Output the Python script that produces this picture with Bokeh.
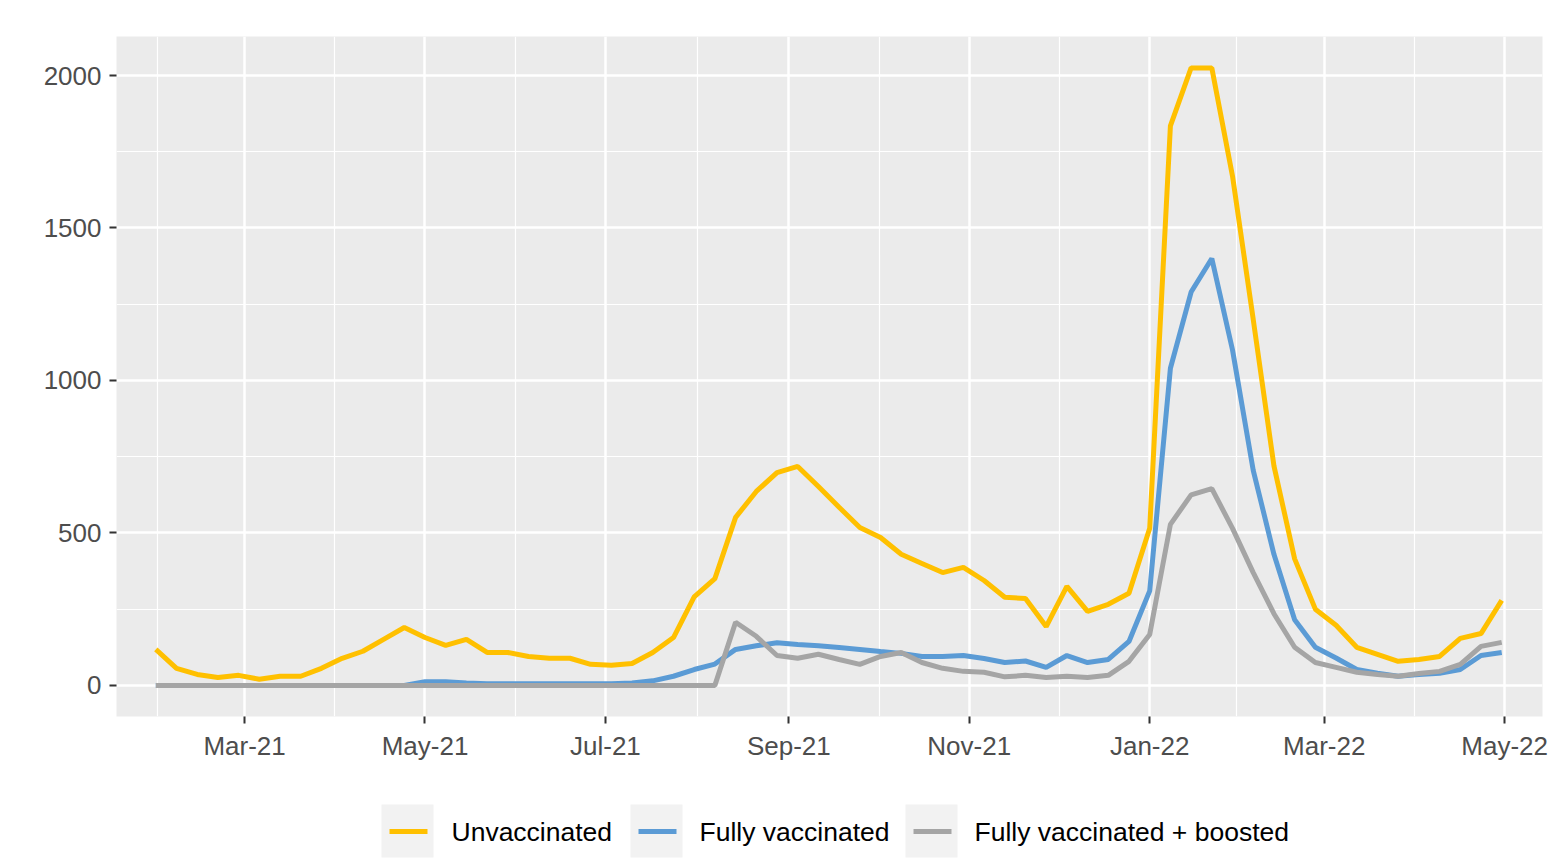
from datetime import datetime, timedelta
from bokeh.plotting import figure
from bokeh.layouts import column
from bokeh.models import ColumnDataSource, Range1d, FixedTicker, DatetimeTickFormatter
from bokeh.core.properties import value
from bokeh.embed import file_html
from bokeh.resources import INLINE

# ---- data (weekly) ----
start_date = datetime(2021, 1, 30)
n_weeks = 66
dates = [start_date + timedelta(days=7 * i) for i in range(n_weeks)]

unvaccinated = [118, 56, 36, 26, 33, 20, 30, 30, 56, 89,
                112, 151, 190, 157, 131, 151, 108, 108, 95, 89,
                89, 69, 66, 72, 108, 157, 290, 350, 551, 636,
                698, 718, 652, 584, 518, 485, 430, 400, 370, 387,
                344, 289, 285, 193, 325, 243, 266, 302, 515, 1835,
                2025, 2025, 1670, 1200, 720, 415, 250, 197, 125, 102,
                79, 85, 95, 154, 170, 279]

fully_vaccinated = [0, 0, 0, 0, 0, 0, 0, 0, 0, 0,
                    0, 0, 0, 12, 12, 8, 5, 5, 5, 5,
                    5, 5, 5, 8, 15, 30, 52, 70, 118, 130,
                    140, 134, 130, 124, 118, 111, 105, 95, 95, 98,
                    88, 75, 80, 59, 98, 75, 85, 144, 310, 1040,
                    1290, 1400, 1100, 705, 430, 215, 125, 90, 52, 40,
                    30, 36, 40, 52, 98, 108]

boosted = [0, 0, 0, 0, 0, 0, 0, 0, 0, 0,
           0, 0, 0, 0, 0, 0, 0, 0, 0, 0,
           0, 0, 0, 0, 0, 0, 0, 0, 207, 161,
           98, 89, 102, 85, 69, 95, 108, 75, 56, 46,
           43, 28, 33, 26, 30, 26, 33, 79, 167, 528,
           625, 645, 515, 370, 235, 125, 75, 59, 43, 36,
           30, 39, 46, 69, 128, 141]

series_names = ["Unvaccinated", "Fully vaccinated", "Fully vaccinated + boosted"]
series_colors = ["#FFC000", "#5B9BD5", "#A5A5A5"]

x_major = [datetime(2021, 3, 1), datetime(2021, 5, 1), datetime(2021, 7, 1),
           datetime(2021, 9, 1), datetime(2021, 11, 1), datetime(2022, 1, 1),
           datetime(2022, 3, 1), datetime(2022, 5, 1)]
y_major = [0, 500, 1000, 1500, 2000]
y_minor = [250, 750, 1250, 1750]

# legend strip layout (pixel units of the legend strip)
key_left = [382, 631, 906]
label_left = [452, 700, 975]

# ---- helpers ----
def ms(d):
    return (d - datetime(1970, 1, 1)).total_seconds() * 1000.0

major_ms = [ms(d) for d in x_major]
prev_major = ms(datetime(2021, 1, 1))
minor_ms = [(prev_major + major_ms[0]) / 2] + [(a + b) / 2 for a, b in zip(major_ms[:-1], major_ms[1:])]

src = ColumnDataSource(dict(date=dates, u=unvaccinated, f=fully_vaccinated, b=boosted))

# ---- main chart ----
p = figure(width=1550, height=766, x_axis_type="datetime",
           output_backend="svg", toolbar_location=None,
           x_range=Range1d(datetime(2021, 1, 16, 17), datetime(2022, 5, 13, 19)),
           y_range=Range1d(-102, 2128))
p.min_border_left = 116
p.min_border_right = 8
p.min_border_top = 36
p.min_border_bottom = 50
p.background_fill_color = "#EBEBEB"
p.border_fill_color = "white"
p.outline_line_color = None

p.xaxis.ticker = FixedTicker(ticks=major_ms, minor_ticks=minor_ms)
p.xaxis.formatter = DatetimeTickFormatter(months="%b-%y", days="%b-%y", years="%b-%y")
p.yaxis.ticker = FixedTicker(ticks=y_major, minor_ticks=y_minor)
for ax in (p.xaxis[0], p.yaxis[0]):
    ax.axis_line_color = None
    ax.major_tick_line_color = "#333333"
    ax.major_tick_line_width = 2
    ax.major_tick_out = 7
    ax.major_tick_in = 0
    ax.minor_tick_line_color = None
    ax.major_label_text_font = "Liberation Sans"
    ax.major_label_text_font_size = "26px"
    ax.major_label_text_color = "#4D4D4D"
p.yaxis.major_label_standoff = 8
p.xaxis.major_label_standoff = 7

for g in (p.xgrid[0], p.ygrid[0]):
    g.grid_line_color = "white"
    g.grid_line_width = 2.5
    g.minor_grid_line_color = "white"
    g.minor_grid_line_width = 1.2

p.line("date", "u", source=src, line_color=series_colors[0], line_width=5)
p.line("date", "f", source=src, line_color=series_colors[1], line_width=5)
p.line("date", "b", source=src, line_color=series_colors[2], line_width=5)

# ---- legend strip (pixel-unit figure below the chart, frame aligned with main chart) ----
lg = figure(width=1550, height=94, output_backend="svg", toolbar_location=None,
            x_range=Range1d(117, 1543), y_range=Range1d(0, 94))
lg.min_border_left = 116
lg.min_border_right = 8
lg.min_border_top = 0
lg.min_border_bottom = 0
lg.axis.visible = False
lg.grid.visible = False
lg.outline_line_color = None
lg.background_fill_color = "white"
lg.border_fill_color = "white"

key_w = 52
lg.quad(left=key_left, right=[k + key_w for k in key_left],
        bottom=3, top=56, fill_color="#F2F2F2", line_color=None)
lg.segment(x0=[k + 8 for k in key_left], x1=[k + key_w - 6 for k in key_left],
           y0=29, y1=29, line_color=series_colors, line_width=5)
lg.text(x=label_left, y=29, text=series_names,
        text_font=value("Liberation Sans"), text_font_size="26.5px",
        text_color="black", text_baseline="middle", text_align="left")

layout = column(p, lg, spacing=0)
open("out.html", "w").write(file_html(layout, INLINE))
